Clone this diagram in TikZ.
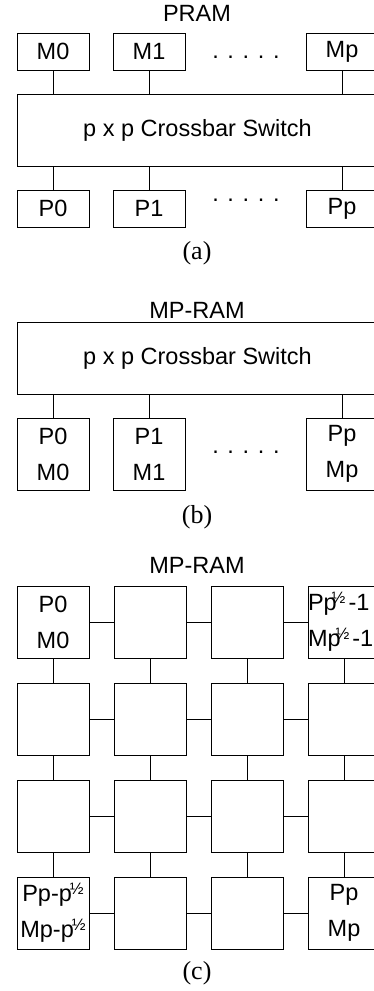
\documentclass[tikz,border=0pt]{standalone}
\usepackage{fontspec}
\setmainfont{Liberation Sans}
\newfontfamily\capfont{Liberation Serif}
\usetikzlibrary{positioning}
\newcommand{\hlf}{\kern-2pt\raisebox{7pt}{\fontsize{16.5}{16.5}\selectfont ½}}
\newcommand{\hlftight}{\kern-5pt\raisebox{7pt}{\fontsize{16.5}{16.5}\selectfont ½}\kern3pt}
\tikzset{
  unitbox/.style={draw=black, line width=1pt, inner sep=0pt, minimum width=72pt,
    minimum height=37pt, font=\fontsize{23.5}{36}\selectfont},
  cellbox/.style={unitbox, minimum height=72pt, text width=72pt, align=center},
  switchbox/.style={unitbox, minimum width=361pt, minimum height=72pt},
  titlelab/.style={font=\fontsize{23.5}{28}\selectfont, inner sep=0pt},
  dotslab/.style={font=\fontsize{23.5}{28}\selectfont, inner sep=0pt},
  caplab/.style={font=\capfont\fontsize{26}{30}\selectfont, inner sep=0pt},
  link/.style={line width=1pt, draw=black},
}
\begin{document}
\begin{tikzpicture}[x=1pt, y=-1pt, node distance=24pt and 24pt]
\useasboundingbox (0,0) rectangle (373,991);
% --- (a) PRAM ---
\node[titlelab] (pramt) at (197,13.5) {PRAM};
\node[unitbox] (m0) at (53,51.5) {M0};
\node[unitbox] (m1) at (149,51.5) {M1};
\node[unitbox] (mp) at (342,51.5) {Mp};
\node[dotslab] (mdots) at (246,57) {. . . . .};
\node[switchbox] (xa) at (197.5,130) {p x p Crossbar Switch};
\node[unitbox] (p0) at (53,208.5) {P0};
\node[unitbox] (p1) at (149,208.5) {P1};
\node[unitbox] (pp) at (342,208.5) {Pp};
\node[dotslab] (pdots) at (246,200) {. . . . .};
\node[caplab] (capa) at (197,253) {(a)};
\draw[link] (m0) -- (m0 |- xa.north) (m1) -- (m1 |- xa.north) (mp) -- (mp |- xa.north);
\draw[link] (p0) -- (p0 |- xa.south) (p1) -- (p1 |- xa.south) (pp) -- (pp |- xa.south);
% --- (b) MP-RAM, crossbar ---
\node[titlelab] (mpramb) at (197,310) {MP-RAM};
\node[switchbox] (xb) at (197.5,358) {p x p Crossbar Switch};
\node[cellbox] (pm0) at (53,454) {P0\\M0};
\node[cellbox] (pm1) at (149,454) {P1\\M1};
\node[cellbox] (pmp) at (342,454) {Pp\\Mp};
\node[dotslab] (bdots) at (246,452) {. . . . .};
\node[caplab] (capb) at (197,517) {(b)};
\draw[link] (pm0) -- (pm0 |- xb.south) (pm1) -- (pm1 |- xb.south) (pmp) -- (pmp |- xb.south);
% --- (c) MP-RAM, mesh ---
\node[titlelab] (mpramc) at (197,565) {MP-RAM};
\node[cellbox] (g11) at (53,622) {P0\\M0};
\node[cellbox, right=of g11] (g12) {};
\node[cellbox, right=of g12] (g13) {};
\node[cellbox, right=of g13, align=left] (g14) {\mbox{Pp\hlftight-1}\\\mbox{Mp\hlftight-1}};
\node[cellbox, below=of g11] (g21) {};
\node[cellbox, right=of g21] (g22) {};
\node[cellbox, right=of g22] (g23) {};
\node[cellbox, right=of g23] (g24) {};
\node[cellbox, below=of g21] (g31) {};
\node[cellbox, right=of g31] (g32) {};
\node[cellbox, right=of g32] (g33) {};
\node[cellbox, right=of g33] (g34) {};
\node[cellbox, below=of g31] (g41) {\mbox{Pp-p\hlf}\\\mbox{Mp-p\hlf}};
\node[cellbox, right=of g41] (g42) {};
\node[cellbox, right=of g42] (g43) {};
\node[cellbox, right=of g43] (g44) {Pp\\Mp};
\node[caplab] (capc) at (197,973) {(c)};
\draw[link] (g11) -- (g12) (g12) -- (g13) (g13) -- (g14);
\draw[link] (g21) -- (g22) (g22) -- (g23) (g23) -- (g24);
\draw[link] (g31) -- (g32) (g32) -- (g33) (g33) -- (g34);
\draw[link] (g41) -- (g42) (g42) -- (g43) (g43) -- (g44);
\draw[link] (g11) -- (g21) (g21) -- (g31) (g31) -- (g41);
\draw[link] (g12) -- (g22) (g22) -- (g32) (g32) -- (g42);
\draw[link] (g13) -- (g23) (g23) -- (g33) (g33) -- (g43);
\draw[link] (g14) -- (g24) (g24) -- (g34) (g34) -- (g44);
\end{tikzpicture}
\end{document}
